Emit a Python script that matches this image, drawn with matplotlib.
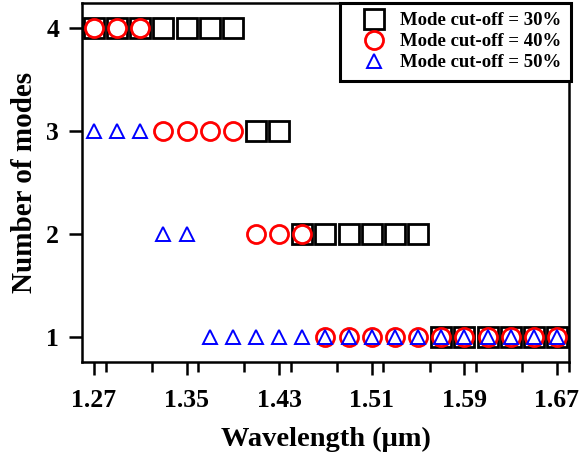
import matplotlib
matplotlib.use("Agg")
import matplotlib.pyplot as plt
from matplotlib.ticker import MultipleLocator

plt.rcParams['font.family'] = ['Liberation Serif', 'DejaVu Serif']
plt.rcParams['font.weight'] = 'bold'

# Data
wl30 = [1.27, 1.29, 1.31, 1.33, 1.35, 1.37, 1.39, 1.41, 1.43,
        1.45, 1.47, 1.49, 1.51, 1.53, 1.55, 1.57, 1.59, 1.61, 1.63, 1.65, 1.67]
modes30 = [4, 4, 4, 4, 4, 4, 4, 3, 3, 2, 2, 2, 2, 2, 2, 1, 1, 1, 1, 1, 1]
wl40 = [1.27, 1.29, 1.31, 1.33, 1.35, 1.37, 1.39, 1.41, 1.43, 1.45,
        1.47, 1.49, 1.51, 1.53, 1.55, 1.57, 1.59, 1.61, 1.63, 1.65, 1.67]
modes40 = [4, 4, 4, 3, 3, 3, 3, 2, 2, 2, 1, 1, 1, 1, 1, 1, 1, 1, 1, 1, 1]
wl50 = [1.27, 1.29, 1.31, 1.33, 1.35, 1.37, 1.39, 1.41, 1.43, 1.45,
        1.47, 1.49, 1.51, 1.53, 1.55, 1.57, 1.59, 1.61, 1.63, 1.65, 1.67]
modes50 = [3, 3, 3, 2, 2, 1, 1, 1, 1, 1, 1, 1, 1, 1, 1, 1, 1, 1, 1, 1, 1]
xticks = [1.27, 1.35, 1.43, 1.51, 1.59, 1.67]
yticks = [1, 2, 3, 4]

fig = plt.figure(figsize=(5.79, 4.57), dpi=100)
ax = fig.add_axes([0.1416, 0.208, 0.8411, 0.7856])

ax.plot(wl30, modes30, linestyle='none', marker='s', ms=14, mfc='none',
        mec='black', mew=2.0, label='Mode cut-off = 30%')
ax.plot(wl40, modes40, linestyle='none', marker='o', ms=13, mfc='none',
        mec='red', mew=2.0, label='Mode cut-off = 40%')
ax.plot(wl50, modes50, linestyle='none', marker='^', ms=10, mfc='none',
        mec='blue', mew=1.4, label='Mode cut-off = 50%')

ax.set_xlim(1.2596, 1.6804)
ax.set_ylim(0.757, 4.24)
ax.set_xticks(xticks)
ax.set_yticks(yticks)
ax.xaxis.set_minor_locator(MultipleLocator(0.04))
ax.set_xticklabels([f"{v:.2f}" for v in xticks])
ax.set_yticklabels([str(v) for v in yticks])

for s in ax.spines.values():
    s.set_linewidth(1.8)
ax.tick_params(axis='both', which='major', direction='out', length=9.5, width=1.8,
               labelsize=18.5)
ax.tick_params(axis='x', which='major', pad=10)
ax.tick_params(axis='y', which='major', pad=7)
ax.tick_params(axis='x', which='minor', direction='out', length=7, width=1.8)
ax.tick_params(top=False, right=False)

ax.set_xlabel('Wavelength (\u03bcm)', fontsize=20.5, fontweight='bold', labelpad=11)
ax.set_ylabel('Number of modes', fontsize=21, fontweight='bold', labelpad=6)

leg = ax.legend(loc='upper right', fontsize=13.5, frameon=True, fancybox=False,
                framealpha=1.0, borderaxespad=0.0, handletextpad=0.1,
                labelspacing=0.2, borderpad=0.5, handlelength=2.6,
                bbox_to_anchor=(1.004, 1.0))
leg.get_frame().set_edgecolor('black')
leg.get_frame().set_linewidth(2.2)
for t in leg.get_texts():
    t.set_fontweight('bold')

fig.savefig('out.png', dpi=100)
